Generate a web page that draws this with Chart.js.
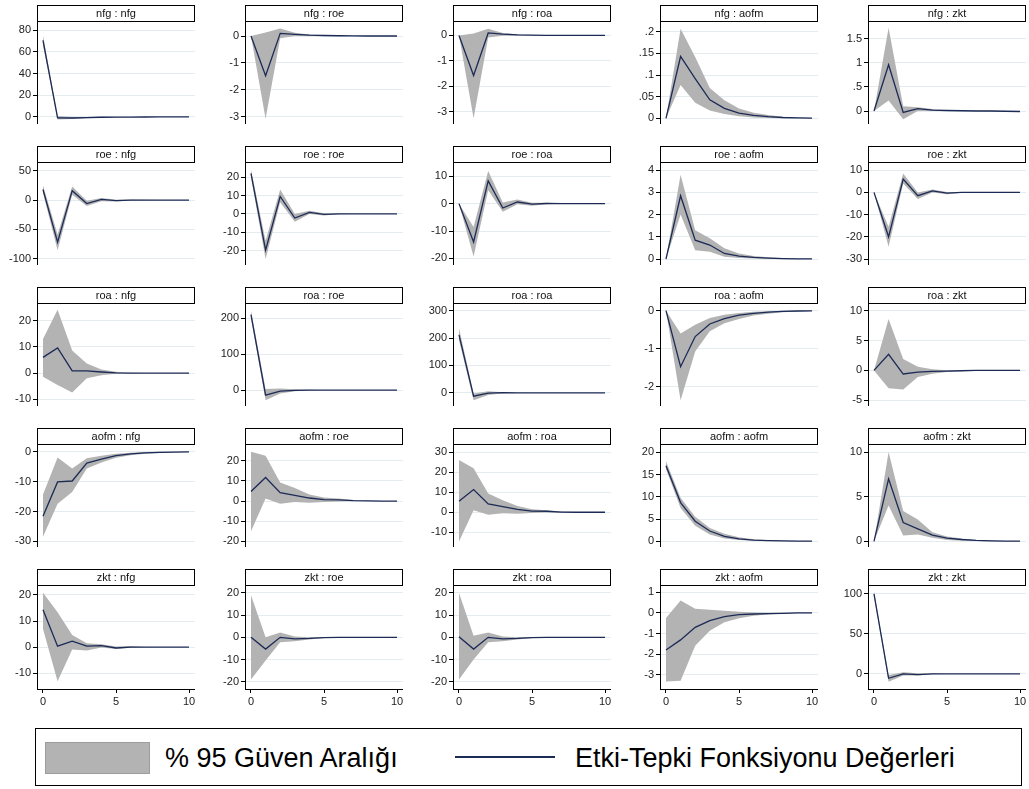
<!DOCTYPE html>
<html>
<head>
<meta charset="utf-8">
<title>Etki-Tepki Fonksiyonları</title>
<script src="https://cdn.jsdelivr.net/npm/chart.js@4.4.1/dist/chart.umd.min.js"></script>
<style>
  html, body { margin: 0; padding: 0; background: #fff; }
  #wrap { position: relative; width: 1029px; height: 789px; overflow: hidden;
          font-family: 'Liberation Sans', Arial, sans-serif; }
  canvas.panel { position: absolute; }
  #legend { position: absolute; left: 35px; top: 728px; width: 987px; height: 58px;
            border: 1.5px solid #000; box-sizing: border-box; }
  .lg { position: absolute; }
  #swatch { left: 45px; top: 742px; width: 105px; height: 32px; background: #b3b3b3;
            border: 1px solid #9d9d9d; box-sizing: border-box; }
  #lgline { left: 455px; top: 756px; width: 100px; height: 2px; background: #1c2a56; }
  .lgtext { top: 740px; height: 36px; line-height: 36px; font-size: 27px; color: #000; white-space: nowrap; }
  #lgt1 { left: 165px; }
  #lgt2 { left: 575px; }
</style>
</head>
<body>
<div id="wrap">
  <div id="legend"></div>
  <div id="swatch" class="lg"></div>
  <div id="lgt1" class="lg lgtext">% 95 Güven Aralığı</div>
  <div id="lgline" class="lg"></div>
  <div id="lgt2" class="lg lgtext">Etki-Tepki Fonksiyonu Değerleri</div>
</div>
<script>
// Forecast horizon (steps) and x-axis tick labels
const steps = [0, 1, 2, 3, 4, 5, 6, 7, 8, 9, 10];
const xTicks = [0, 5, 10];

// ---- impulse : response  — IRF, lower and upper 95% bounds ----
// nfg impulse
const nfg_nfg    = [70.5, -0.8, -1.0, -0.6, -0.3, -0.2, -0.1, -0.05, 0, 0, 0];
const nfg_nfg_lo = [66, -2.3, -2.0, -1.2, -0.7, -0.4, -0.2, -0.1, -0.05, 0, 0];
const nfg_nfg_hi = [75, 0.8, 0.0, 0.0, 0.1, 0, 0, 0, 0, 0, 0];
const nfg_nfg_ticks = [0, 20, 40, 60, 80];

const nfg_roe    = [0, -1.48, 0.1, 0.06, 0.03, 0.02, 0.01, 0.005, 0, 0, 0];
const nfg_roe_lo = [0, -3.08, -0.08, 0.0, 0.0, 0, 0, 0, 0, 0, 0];
const nfg_roe_hi = [0, 0.13, 0.28, 0.12, 0.06, 0.04, 0.02, 0.01, 0.005, 0, 0];
const nfg_roe_ticks = [-3, -2, -1, 0];

const nfg_roa    = [0, -1.58, 0.1, 0.05, 0.02, 0.01, 0, 0, 0, 0, 0];
const nfg_roa_lo = [0, -3.26, -0.08, -0.01, 0, 0, 0, 0, 0, 0, 0];
const nfg_roa_hi = [0, 0.08, 0.26, 0.1, 0.05, 0.02, 0.01, 0, 0, 0, 0];
const nfg_roa_ticks = [-3, -2, -1, 0];

const nfg_aofm    = [0, 0.143, 0.092, 0.043, 0.023, 0.012, 0.007, 0.004, 0.002, 0.001, 0.0005];
const nfg_aofm_lo = [0, 0.077, 0.036, 0.018, 0.01, 0.005, 0.002, 0.001, 0, 0, 0];
const nfg_aofm_hi = [0, 0.207, 0.142, 0.07, 0.042, 0.023, 0.013, 0.008, 0.004, 0.002, 0.001];
const nfg_aofm_ticks = [0, 0.05, 0.1, 0.15, 0.2];

const nfg_zkt    = [0, 0.96, -0.03, 0.05, 0.02, 0.01, 0.005, 0, 0, -0.005, -0.01];
const nfg_zkt_lo = [0, 0.22, -0.17, 0.0, 0.0, 0, 0, 0, -0.01, -0.01, -0.02];
const nfg_zkt_hi = [0, 1.73, 0.1, 0.08, 0.04, 0.02, 0.01, 0.01, 0.005, 0, 0];
const nfg_zkt_ticks = [0, 0.5, 1, 1.5];

// roe impulse
const roe_nfg    = [18, -72, 16, -6, 1, -1, 0, 0, 0, 0, 0];
const roe_nfg_lo = [12, -86, 9, -10, -2, -2.5, -0.8, -0.3, 0, 0, 0];
const roe_nfg_hi = [25, -59, 23, -1, 3.5, 0.5, 0.8, 0.3, 0, 0, 0];
const roe_nfg_ticks = [-100, -50, 0, 50];

const roe_roe    = [22, -19.6, 9.5, -2.2, 0.9, -0.2, 0.05, 0, 0, 0, 0];
const roe_roe_lo = [20, -24.5, 6.4, -4.2, 0, -0.8, -0.2, 0, 0, 0, 0];
const roe_roe_hi = [24, -14.5, 13.3, 0, 1.8, 0.4, 0.3, 0.1, 0, 0, 0];
const roe_roe_ticks = [-20, -10, 0, 10, 20];

const roe_roa    = [0, -14, 8.3, -1.6, 0.6, -0.2, 0.05, 0, 0, 0, 0];
const roe_roa_lo = [0, -19.3, 4.9, -3, -0.2, -0.8, -0.2, 0, 0, 0, 0];
const roe_roa_hi = [0, -8.5, 11.9, 0.4, 1.5, 0.3, 0.3, 0.1, 0, 0, 0];
const roe_roa_ticks = [-20, -10, 0, 10];

const roe_aofm    = [0, 2.85, 0.85, 0.63, 0.25, 0.13, 0.07, 0.04, 0.02, 0.01, 0.005];
const roe_aofm_lo = [0, 2.0, 0.4, 0.33, 0.1, 0.05, 0.02, 0.01, 0, 0, 0];
const roe_aofm_hi = [0, 3.8, 1.3, 0.93, 0.48, 0.25, 0.14, 0.08, 0.04, 0.02, 0.01];
const roe_aofm_ticks = [0, 1, 2, 3, 4];

const roe_zkt    = [0, -20, 6, -1.5, 0.7, -0.3, 0, 0, 0, 0, 0];
const roe_zkt_lo = [0, -24.5, 4, -3, 0, -0.8, -0.2, 0, 0, 0, 0];
const roe_zkt_hi = [0, -15.5, 8.5, 0, 1.3, 0.2, 0.2, 0, 0, 0, 0];
const roe_zkt_ticks = [-30, -20, -10, 0, 10];

// roa impulse
const roa_nfg    = [6, 9.6, 0.8, 0.8, 0.4, 0.1, 0, 0, 0, 0, 0];
const roa_nfg_lo = [-1.4, -4.6, -7.4, -2, -0.8, -0.3, -0.1, 0, 0, 0, 0];
const roa_nfg_hi = [13, 24.2, 8.6, 3.7, 1.4, 0.5, 0.15, 0, 0, 0, 0];
const roa_nfg_ticks = [-10, 0, 10, 20];

const roa_roe    = [210, -14, -2.5, -0.5, 0, 0, 0, 0, 0, 0, 0];
const roa_roe_lo = [200, -28, -9, -3, -1, 0, 0, 0, 0, 0, 0];
const roa_roe_hi = [221, 3, 4.6, 2.5, 1, 0, 0, 0, 0, 0, 0];
const roa_roe_ticks = [0, 100, 200];

const roa_roa    = [212, -12, -1, 0.5, 0, 0, 0, 0, 0, 0, 0];
const roa_roa_lo = [193, -27, -8, -1.5, -0.5, 0, 0, 0, 0, 0, 0];
const roa_roa_hi = [236, -2, 6, 2.5, 0.5, 0, 0, 0, 0, 0, 0];
const roa_roa_ticks = [0, 100, 200, 300];

const roa_aofm    = [0, -1.47, -0.68, -0.35, -0.21, -0.12, -0.07, -0.04, -0.02, -0.01, -0.005];
const roa_aofm_lo = [0, -2.35, -1.07, -0.54, -0.33, -0.22, -0.13, -0.08, -0.04, -0.02, -0.01];
const roa_aofm_hi = [0, -0.6, -0.37, -0.19, -0.11, -0.06, -0.03, -0.015, -0.005, 0, 0];
const roa_aofm_ticks = [-2, -1, 0];

const roa_zkt    = [0, 2.7, -0.6, -0.3, -0.15, -0.1, -0.05, 0, 0, 0, 0];
const roa_zkt_lo = [0, -3.0, -3.2, -1.1, -0.55, -0.25, -0.1, 0, 0, 0, 0];
const roa_zkt_hi = [0, 8.6, 1.9, 0.6, 0.2, 0.05, 0.02, 0, 0, 0, 0];
const roa_zkt_ticks = [-5, 0, 5, 10];

// aofm impulse
const aofm_nfg    = [-21.6, -10.1, -9.8, -3.8, -2.5, -1.3, -0.7, -0.4, -0.2, -0.1, -0.05];
const aofm_nfg_lo = [-28.5, -17.4, -13.5, -5.6, -3.6, -2, -1.2, -0.7, -0.4, -0.2, -0.1];
const aofm_nfg_hi = [-14.3, -1.9, -5.6, -2.2, -1.3, -0.7, -0.3, -0.1, 0, 0, 0];
const aofm_nfg_ticks = [-30, -20, -10, 0];

const aofm_roe    = [4.7, 11.7, 4.2, 2.8, 1.5, 0.7, 0.6, 0.2, 0.05, 0, 0];
const aofm_roe_lo = [-15, 1.2, -1.3, -0.5, -0.8, -0.5, -0.2, 0, 0, 0, 0];
const aofm_roe_hi = [24.5, 22.5, 9.2, 6.5, 3.3, 1.7, 1.2, 0.5, 0.1, 0, 0];
const aofm_roe_ticks = [-20, -10, 0, 10, 20];

const aofm_roa    = [5.5, 11.4, 4.2, 2.8, 1.5, 0.6, 0.5, 0.1, 0, 0, 0];
const aofm_roa_lo = [-14.6, 1.0, -1.2, -0.5, -0.8, -0.4, -0.1, -0.1, 0, 0, 0];
const aofm_roa_hi = [26.2, 22, 9.4, 6, 3.2, 1.5, 1.0, 0.4, 0.1, 0, 0];
const aofm_roa_ticks = [-10, 0, 10, 20, 30];

const aofm_aofm    = [17, 8.7, 4.5, 2.3, 1.1, 0.55, 0.25, 0.12, 0.06, 0.03, 0.01];
const aofm_aofm_lo = [16.2, 7.5, 3.5, 1.5, 0.6, 0.25, 0.1, 0.04, 0.01, 0, 0];
const aofm_aofm_hi = [18, 9.8, 5.5, 3.0, 1.7, 0.9, 0.45, 0.22, 0.11, 0.05, 0.03];
const aofm_aofm_ticks = [0, 5, 10, 15, 20];

const aofm_zkt    = [0, 7.0, 2.1, 1.4, 0.7, 0.35, 0.2, 0.1, 0.05, 0.02, 0.01];
const aofm_zkt_lo = [0, 4.0, 0.65, 0.75, 0.4, 0.15, 0.05, 0.02, 0, 0, 0];
const aofm_zkt_hi = [0, 10, 3.4, 2.45, 1.0, 0.55, 0.3, 0.15, 0.08, 0.04, 0.02];
const aofm_zkt_ticks = [0, 5, 10];

// zkt impulse
const zkt_nfg    = [14.3, 0.4, 2.3, 0.4, 0.6, -0.3, 0, 0, 0, 0, 0];
const zkt_nfg_lo = [7, -13, -0.9, -1.3, -0.1, -0.7, -0.2, 0, 0, 0, 0];
const zkt_nfg_hi = [20.8, 13.4, 4.7, 1.5, 1.1, 0.3, 0.5, 0.1, 0, 0, 0];
const zkt_nfg_ticks = [-10, 0, 10, 20];

const zkt_roe    = [0, -5.3, 0, -0.7, -0.5, -0.1, 0, 0, 0, 0, 0];
const zkt_roe_lo = [-19, -10.5, -2.2, -1.8, -1, -0.3, -0.1, 0, 0, 0, 0];
const zkt_roe_hi = [19, 0, 2.2, 0.4, 0, 0.1, 0.05, 0, 0, 0, 0];
const zkt_roe_ticks = [-20, -10, 0, 10, 20];

const zkt_roa    = [0.3, -5.3, 0, -0.7, -0.5, -0.1, 0, 0, 0, 0, 0];
const zkt_roa_lo = [-19, -10, -2.2, -1.8, -1, -0.3, -0.1, 0, 0, 0, 0];
const zkt_roa_hi = [20, 0.7, 2.2, 0.4, 0, 0.1, 0.05, 0, 0, 0, 0];
const zkt_roa_ticks = [-20, -10, 0, 10, 20];

const zkt_aofm    = [-1.8, -1.31, -0.7, -0.37, -0.18, -0.08, -0.05, -0.03, -0.02, 0, 0];
const zkt_aofm_lo = [-3.33, -3.3, -1.6, -0.86, -0.45, -0.26, -0.14, -0.07, -0.04, -0.02, -0.01];
const zkt_aofm_hi = [-0.25, 0.6, 0.2, 0.15, 0.11, 0.06, 0.02, 0.01, 0.01, 0.01, 0];
const zkt_aofm_ticks = [-3, -2, -1, 0, 1];

const zkt_zkt    = [100, -5.4, 0, -0.8, 0, 0, 0, 0, 0, 0, 0];
const zkt_zkt_lo = [97, -9.6, -2, -2, -0.5, 0, 0, 0, 0, 0, 0];
const zkt_zkt_hi = [103, -1.3, 2, 0.8, 0.5, 0, 0, 0, 0, 0, 0];
const zkt_zkt_ticks = [0, 50, 100];

// Panels in reading order (rows = impulse, columns = response) with y-axis ranges
const panels = [
  { title: 'nfg : nfg',  irf: nfg_nfg,  lo: nfg_nfg_lo,  hi: nfg_nfg_hi,  ticks: nfg_nfg_ticks,  min: -6.5,  max: 88.3 },
  { title: 'nfg : roe',  irf: nfg_roe,  lo: nfg_roe_lo,  hi: nfg_roe_hi,  ticks: nfg_roe_ticks,  min: -3.28, max: 0.56 },
  { title: 'nfg : roa',  irf: nfg_roa,  lo: nfg_roa_lo,  hi: nfg_roa_hi,  ticks: nfg_roa_ticks,  min: -3.49, max: 0.57 },
  { title: 'nfg : aofm', irf: nfg_aofm, lo: nfg_aofm_lo, hi: nfg_aofm_hi, ticks: nfg_aofm_ticks, min: -0.013, max: 0.225 },
  { title: 'nfg : zkt',  irf: nfg_zkt,  lo: nfg_zkt_lo,  hi: nfg_zkt_hi,  ticks: nfg_zkt_ticks,  min: -0.27, max: 1.87 },

  { title: 'roe : nfg',  irf: roe_nfg,  lo: roe_nfg_lo,  hi: roe_nfg_hi,  ticks: roe_nfg_ticks,  min: -111,  max: 65 },
  { title: 'roe : roe',  irf: roe_roe,  lo: roe_roe_lo,  hi: roe_roe_hi,  ticks: roe_roe_ticks,  min: -27.7, max: 28.2 },
  { title: 'roe : roa',  irf: roe_roa,  lo: roe_roa_lo,  hi: roe_roa_hi,  ticks: roe_roa_ticks,  min: -22.4, max: 15.2 },
  { title: 'roe : aofm', irf: roe_aofm, lo: roe_aofm_lo, hi: roe_aofm_hi, ticks: roe_aofm_ticks, min: -0.27, max: 4.37 },
  { title: 'roe : zkt',  irf: roe_zkt,  lo: roe_zkt_lo,  hi: roe_zkt_hi,  ticks: roe_zkt_ticks,  min: -32.7, max: 13.7 },

  { title: 'roa : nfg',  irf: roa_nfg,  lo: roa_nfg_lo,  hi: roa_nfg_hi,  ticks: roa_nfg_ticks,  min: -12.6, max: 26.8 },
  { title: 'roa : roe',  irf: roa_roe,  lo: roa_roe_lo,  hi: roa_roe_hi,  ticks: roa_roe_ticks,  min: -44,   max: 242 },
  { title: 'roa : roa',  irf: roa_roa,  lo: roa_roa_lo,  hi: roa_roa_hi,  ticks: roa_roa_ticks,  min: -48,   max: 328 },
  { title: 'roa : aofm', irf: roa_aofm, lo: roa_aofm_lo, hi: roa_aofm_hi, ticks: roa_aofm_ticks, min: -2.5,  max: 0.2 },
  { title: 'roa : zkt',  irf: roa_zkt,  lo: roa_zkt_lo,  hi: roa_zkt_hi,  ticks: roa_zkt_ticks,  min: -5.96, max: 11.3 },

  { title: 'aofm : nfg',  irf: aofm_nfg,  lo: aofm_nfg_lo,  hi: aofm_nfg_hi,  ticks: aofm_nfg_ticks,  min: -31.9, max: 2.6 },
  { title: 'aofm : roe',  irf: aofm_roe,  lo: aofm_roe_lo,  hi: aofm_roe_hi,  ticks: aofm_roe_ticks,  min: -22.8, max: 28.3 },
  { title: 'aofm : roa',  irf: aofm_roa,  lo: aofm_roa_lo,  hi: aofm_roa_hi,  ticks: aofm_roa_ticks,  min: -17.4, max: 34.2 },
  { title: 'aofm : aofm', irf: aofm_aofm, lo: aofm_aofm_lo, hi: aofm_aofm_hi, ticks: aofm_aofm_ticks, min: -1.3,  max: 21.9 },
  { title: 'aofm : zkt',  irf: aofm_zkt,  lo: aofm_zkt_lo,  hi: aofm_zkt_hi,  ticks: aofm_zkt_ticks,  min: -0.64, max: 10.9 },

  { title: 'zkt : nfg',  irf: zkt_nfg,  lo: zkt_nfg_lo,  hi: zkt_nfg_hi,  ticks: zkt_nfg_ticks,  min: -16,   max: 23.8 },
  { title: 'zkt : roe',  irf: zkt_roe,  lo: zkt_roe_lo,  hi: zkt_roe_hi,  ticks: zkt_roe_ticks,  min: -23.3, max: 23.6 },
  { title: 'zkt : roa',  irf: zkt_roa,  lo: zkt_roa_lo,  hi: zkt_roa_hi,  ticks: zkt_roa_ticks,  min: -23.3, max: 23.6 },
  { title: 'zkt : aofm', irf: zkt_aofm, lo: zkt_aofm_lo, hi: zkt_aofm_hi, ticks: zkt_aofm_ticks, min: -3.7,  max: 1.36 },
  { title: 'zkt : zkt',  irf: zkt_zkt,  lo: zkt_zkt_lo,  hi: zkt_zkt_hi,  ticks: zkt_zkt_ticks,  min: -18.8, max: 111 }
];

// Grid geometry
const COL_X = [37, 245, 453, 660, 868];   // x of each column's y-axis line
const ROW_TOP = 5, ROW_STEP = 141;          // top of each panel header
const HEAD_H = 16, PLOT_W = 158, YAX_W = 36, XAX_H = 22;
const NAVY = '#1c2a56', BAND = '#b3b3b3', GRID = '#e4ecef';
const FONT = "'Liberation Sans', Arial, sans-serif";

// Stata-style labels: ".5" instead of "0.5"
const fmt = v => String(+v.toFixed(4)).replace(/^(-?)0\./, '$1.');

// Boxed panel title sitting on top of the plot area
const headerPlugin = {
  id: 'panelHeader',
  afterDraw(chart, args, opts) {
    const a = chart.chartArea, ctx = chart.ctx;
    const x = Math.round(a.left) + 0.5, y = Math.round(a.top - HEAD_H) + 0.5;
    const w = Math.round(a.right - a.left) - 1;
    ctx.save();
    ctx.fillStyle = '#fff';
    ctx.fillRect(x, y, w, HEAD_H);
    ctx.strokeStyle = '#000';
    ctx.lineWidth = 1;
    ctx.strokeRect(x, y, w, HEAD_H);
    ctx.fillStyle = '#111';
    ctx.font = '11px ' + FONT;
    ctx.textAlign = 'center';
    ctx.textBaseline = 'middle';
    ctx.fillText(opts.text, (a.left + a.right) / 2, a.top - HEAD_H / 2 + 0.5);
    ctx.restore();
  }
};

const wrap = document.getElementById('wrap');
const toPoints = arr => steps.map((s, k) => ({ x: s, y: arr[k] }));

panels.forEach((p, i) => {
  const r = Math.floor(i / 5), c = i % 5;
  const bottomRow = r === 4;
  const plotH = bottomRow ? 104 : 103;
  const xAxH = bottomRow ? XAX_H : 0;
  const w = YAX_W + PLOT_W, h = HEAD_H + plotH + xAxH;

  const canvas = document.createElement('canvas');
  canvas.className = 'panel';
  canvas.width = w; canvas.height = h;
  canvas.style.width = w + 'px'; canvas.style.height = h + 'px';
  canvas.style.left = (COL_X[c] - YAX_W) + 'px';
  canvas.style.top = (ROW_TOP + ROW_STEP * r) + 'px';
  wrap.appendChild(canvas);

  new Chart(canvas, {
    type: 'line',
    data: {
      datasets: [
        { data: toPoints(p.irf), borderColor: NAVY, borderWidth: 1.3, pointRadius: 0,
          fill: false, tension: 0, order: 0 },
        { data: toPoints(p.lo), borderColor: 'rgba(0,0,0,0)', borderWidth: 0, pointRadius: 0,
          fill: false, order: 2 },
        { data: toPoints(p.hi), borderColor: 'rgba(0,0,0,0)', borderWidth: 0, pointRadius: 0,
          fill: '-1', backgroundColor: BAND, order: 1 }
      ]
    },
    options: {
      responsive: false,
      animation: false,
      devicePixelRatio: 1,
      events: [],
      layout: { padding: { top: HEAD_H, left: 0, right: 0, bottom: 0 } },
      plugins: {
        legend: { display: false },
        tooltip: { enabled: false },
        panelHeader: { text: p.title }
      },
      scales: {
        x: {
          type: 'linear', min: -0.41, max: 10.41, display: bottomRow,
          afterBuildTicks: s => { s.ticks = xTicks.map(v => ({ value: v })); },
          afterFit: s => { s.height = xAxH; s.paddingLeft = 0; s.paddingRight = 0; },
          grid: { drawOnChartArea: false, drawTicks: true, tickLength: 4, tickColor: '#000' },
          border: { display: true, color: '#000', width: 1 },
          ticks: { autoSkip: false, maxRotation: 0, padding: 2, color: '#222',
                   font: { family: FONT, size: 11 }, callback: v => fmt(v) }
        },
        y: {
          type: 'linear', min: p.min, max: p.max,
          afterBuildTicks: s => { s.ticks = p.ticks.map(v => ({ value: v })); },
          afterFit: s => { s.width = YAX_W; s.paddingTop = 0; s.paddingBottom = 0; },
          grid: { color: GRID, lineWidth: 1, drawTicks: true, tickLength: 4, tickColor: '#000' },
          border: { display: true, color: '#000', width: 1 },
          ticks: { autoSkip: false, padding: 2, color: '#222',
                   font: { family: FONT, size: 11 }, callback: v => fmt(v) }
        }
      }
    },
    plugins: [headerPlugin]
  });
});
</script>
</body>
</html>
